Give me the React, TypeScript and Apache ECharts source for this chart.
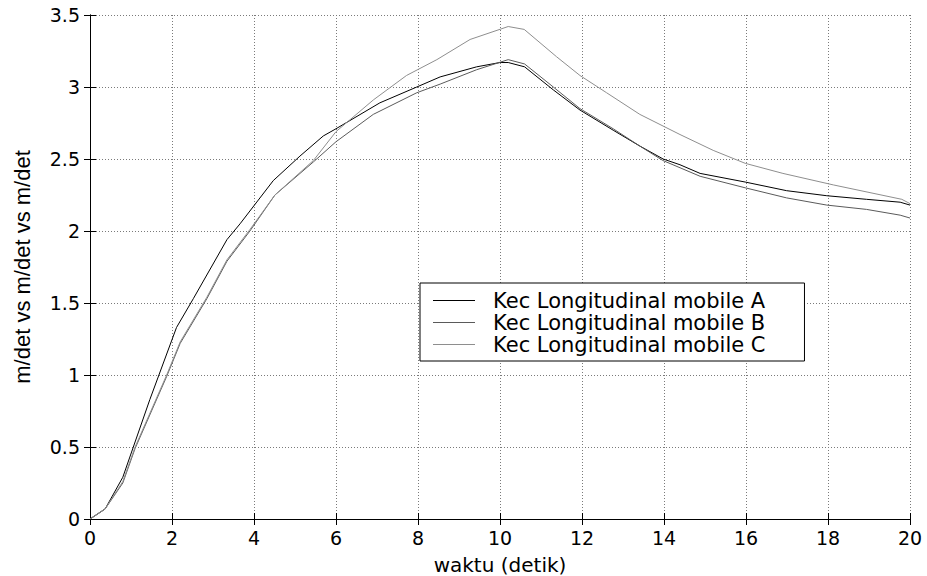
import React, { useEffect, useRef } from "react";
import * as echarts from "echarts";

const xTicks = { min: 0, max: 20, interval: 2 };
const yTicks = { min: 0, max: 3.5, interval: 0.5 };

const seriesNames = [
  "Kec Longitudinal mobile A",
  "Kec Longitudinal mobile B",
  "Kec Longitudinal mobile C",
];

// [time (s), speed (m/det)]
const mobileA: [number, number][] = [
  [0, 0.0], [0.37, 0.07], [0.8, 0.29], [1.46, 0.83], [2.11, 1.33], [2.52, 1.53],
  [3.34, 1.94], [3.66, 2.05], [4.47, 2.35], [5.12, 2.52], [5.69, 2.66], [6.0, 2.71],
  [7.07, 2.89], [7.97, 3.0], [8.54, 3.07], [9.43, 3.14], [10.0, 3.17], [10.2, 3.17],
  [10.6, 3.14], [11.3, 2.98], [11.95, 2.84], [12.76, 2.7], [13.41, 2.59],
  [13.98, 2.5], [14.39, 2.46], [14.88, 2.4], [15.98, 2.34], [16.99, 2.28],
  [17.97, 2.245], [18.94, 2.22], [19.76, 2.2], [20, 2.18],
];

const mobileB: [number, number][] = [
  [0, 0.0], [0.37, 0.07], [0.8, 0.25], [1.1, 0.49], [1.87, 0.99], [2.2, 1.22],
  [2.85, 1.53], [3.34, 1.79], [3.9, 2.0], [4.51, 2.25], [5.45, 2.48], [6.0, 2.62],
  [6.91, 2.81], [7.97, 2.96], [8.54, 3.02], [9.43, 3.12], [10.2, 3.19], [10.6, 3.16],
  [11.3, 3.0], [11.95, 2.85], [12.76, 2.71], [13.41, 2.59], [13.97, 2.49],
  [14.88, 2.38], [15.98, 2.3], [16.99, 2.23], [17.97, 2.18], [18.94, 2.15],
  [19.76, 2.11], [20, 2.09],
];

const mobileC: [number, number][] = [
  [0, 0.0], [0.37, 0.07], [0.8, 0.26], [1.1, 0.5], [1.87, 1.0], [2.2, 1.23],
  [2.85, 1.54], [3.34, 1.8], [3.9, 2.01], [4.51, 2.25], [5.45, 2.49], [6.0, 2.69],
  [6.91, 2.91], [7.72, 3.08], [8.46, 3.19], [9.27, 3.33], [10.2, 3.42], [10.59, 3.4],
  [11.38, 3.21], [11.95, 3.08], [12.6, 2.96], [13.41, 2.81], [14.39, 2.67],
  [15.2, 2.56], [15.98, 2.47], [16.9, 2.4], [18.13, 2.32], [19.8, 2.22], [20, 2.19],
];

const lineColors = ["#000000", "#5a5a5a", "#8e8e8e"];

export default function App() {
  const ref = useRef<HTMLDivElement>(null);

  useEffect(() => {
    if (!ref.current) return;
    const chart = echarts.init(ref.current, null, { renderer: "svg" });
    const tickFont = { fontFamily: "DejaVu Sans", fontSize: 19, color: "#000" };
    const gridLine = {
      show: true,
      lineStyle: { color: "#7a7a7a", type: [1, 2] as any, width: 1 },
    };
    const axisLine = { show: true, lineStyle: { color: "#000", width: 1 } };
    const axisTick = {
      show: true,
      inside: true,
      length: 6,
      lineStyle: { color: "#000", width: 1 },
    };
    const data = [mobileA, mobileB, mobileC];

    chart.setOption({
      animation: false,
      backgroundColor: "#fff",
      grid: {
        left: 90,
        right: 17,
        top: 15,
        bottom: 57,
        containLabel: false,
        outerBoundsMode: "none",
      },
      xAxis: [
        {
          type: "value",
          position: "bottom",
          ...xTicks,
          axisLine,
          axisTick,
          axisLabel: { ...tickFont, margin: 9 },
          splitLine: gridLine,
          name: "waktu (detik)",
          nameLocation: "middle",
          nameGap: 36,
          nameTextStyle: { fontFamily: "DejaVu Sans", fontSize: 20, color: "#000" },
        },
        {
          type: "value",
          position: "top",
          ...xTicks,
          axisLine,
          axisTick,
          axisLabel: { show: false },
          splitLine: { show: false },
        },
      ],
      yAxis: [
        {
          type: "value",
          position: "left",
          ...yTicks,
          axisLine,
          axisTick,
          axisLabel: { ...tickFont, margin: 10 },
          splitLine: gridLine,
          name: "m/det vs m/det vs m/det",
          nameLocation: "middle",
          nameGap: 57,
          nameTextStyle: { fontFamily: "Liberation Sans", fontSize: 22, color: "#000" },
        },
        {
          type: "value",
          position: "right",
          ...yTicks,
          axisLine,
          axisTick,
          axisLabel: { show: false },
          splitLine: { show: false },
        },
      ],
      legend: {
        show: true,
        orient: "vertical",
        left: 420,
        top: 283,
        padding: [7, 39, 6, 13],
        icon: "rect",
        itemWidth: 42,
        itemHeight: 1.2,
        itemGap: 1,
        borderColor: "#000",
        borderWidth: 1,
        backgroundColor: "#fff",
        data: seriesNames,
        textStyle: {
          fontFamily: "DejaVu Sans",
          fontSize: 21,
          lineHeight: 21,
          color: "#000",
          padding: [0, 0, 0, 13],
        },
      },
      series: seriesNames.map((name, i) => ({
        name,
        type: "line",
        xAxisIndex: 0,
        yAxisIndex: 0,
        data: data[i],
        symbol: "none",
        showSymbol: false,
        smooth: false,
        lineStyle: { color: lineColors[i], width: 1 },
        itemStyle: { color: lineColors[i] },
        z: 3 + i,
      })),
    });
    return () => chart.dispose();
  }, []);

  return (
    <div
      ref={ref}
      style={{ position: "fixed", left: 0, top: 0, width: 927, height: 576 }}
    />
  );
}
